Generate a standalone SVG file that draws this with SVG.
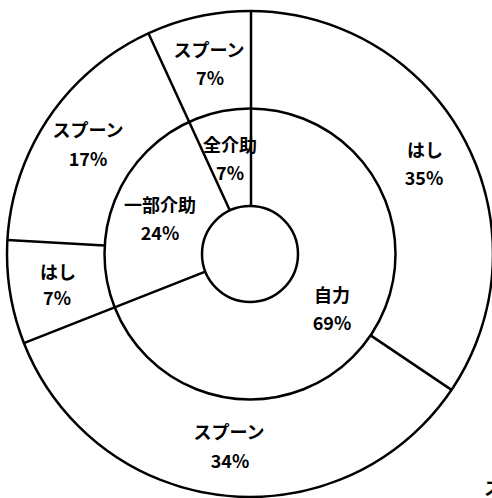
<svg xmlns="http://www.w3.org/2000/svg" width="492" height="498" viewBox="0 0 492 498">
<style>
.ring{fill:none;stroke:#000;stroke-width:2.5}
.sep{stroke:#000;stroke-width:2.5;fill:none}
text{font-family:"Noto Sans CJK JP","Liberation Sans",sans-serif;font-size:18px;font-weight:bold;fill:#000;text-anchor:middle}
</style>
<rect width="492" height="498" fill="#fff"/>
<g id="rings">
<circle class="ring" cx="250" cy="254" r="243"/>
<circle class="ring" cx="250" cy="254" r="145.5"/>
<circle class="ring" cx="250" cy="254" r="48"/>
</g>
<g id="connectors">
<line class="sep" x1="251" y1="11" x2="251" y2="206"/>
<line class="sep" x1="148.4" y1="33.2" x2="229.9" y2="210.4"/>
<line class="sep" x1="23.9" y1="343.1" x2="205.3" y2="271.6"/>
<line class="sep" x1="7.4" y1="240" x2="104.7" y2="245.6"/>
<line class="sep" x1="370.6" y1="335.4" x2="451.5" y2="389.9"/>
</g>
<g id="outer-spoon-7"><text x="209" y="57">スプーン</text><text x="210" y="85">7%</text></g>
<g id="outer-spoon-17"><text x="88" y="137">スプーン</text><text x="88" y="166">17%</text></g>
<g id="inner-zenkaijo"><text x="230" y="152">全介助</text><text x="230" y="180">7%</text></g>
<g id="inner-ichibu"><text x="160" y="212">一部介助</text><text x="160" y="240">24%</text></g>
<g id="outer-hashi-35"><text x="425" y="157">はし</text><text x="424" y="185">35%</text></g>
<g id="outer-hashi-7"><text x="58" y="279">はし</text><text x="57" y="305">7%</text></g>
<g id="inner-jiriki"><text x="332" y="302">自力</text><text x="332" y="330">69%</text></g>
<g id="outer-spoon-34"><text x="229" y="439">スプーン</text><text x="230" y="468">34%</text></g>
<g id="cut-label"><text x="484" y="495" style="text-anchor:start">ス</text></g>
</svg>
